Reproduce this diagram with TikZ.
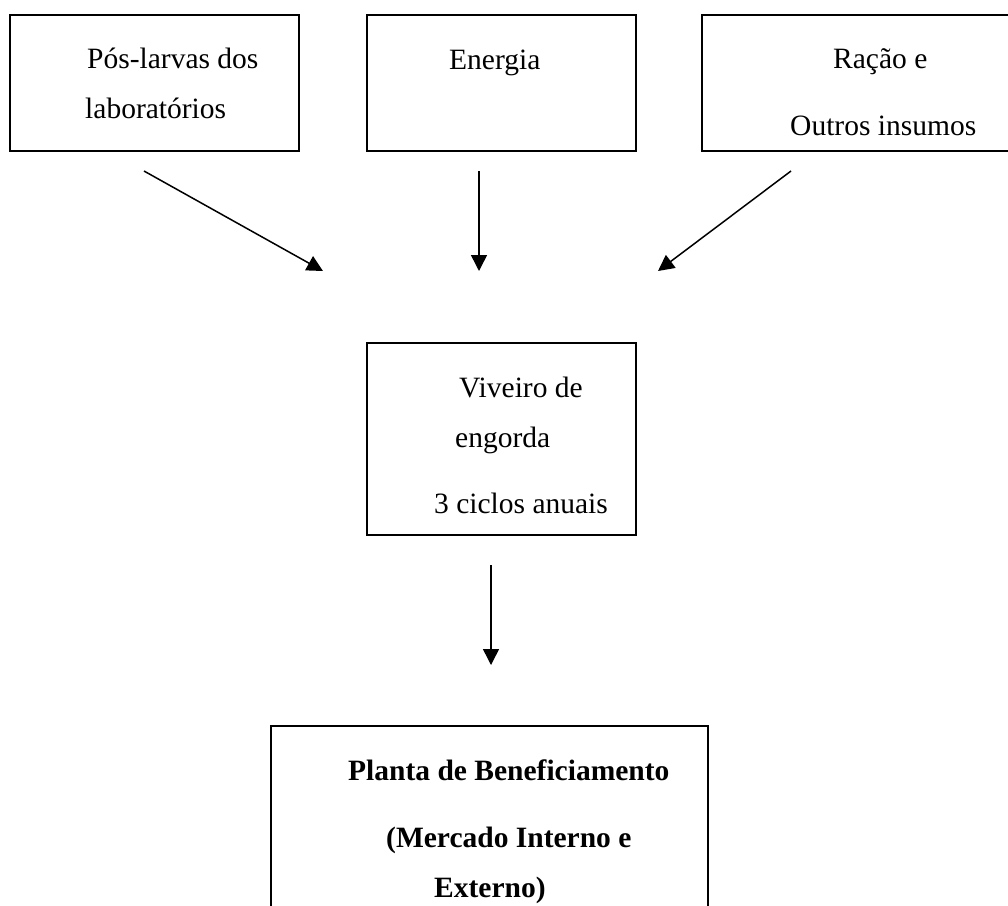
\documentclass[tikz,border=0pt]{standalone}
\usepackage{fontspec}
\setmainfont{Liberation Serif}
\usetikzlibrary{arrows.meta}
\begin{document}
\begin{tikzpicture}[x=1pt,y=-1pt,
  box/.style={draw, line width=2pt, rectangle, inner sep=0pt},
  lbl/.style={anchor=base west, inner sep=0pt, font=\fontsize{29.5}{35}\selectfont},
  conn/.style={line width=1.5pt, -{Triangle[length=16pt,width=16pt]}}]
\clip (0,0) rectangle (1008,905);
\fill[white] (0,0) rectangle (1008,905);
% boxes
\node[box, minimum width=289.3pt, minimum height=136pt] (pl) at (154.65,82.7) {};
\node[box, minimum width=268.4pt, minimum height=136pt] (en) at (501.5,82.7) {};
\node[box, minimum width=310pt, minimum height=136pt] (ra) at (857,82.7) {};
\node[box, minimum width=268.4pt, minimum height=192pt] (vi) at (501.5,439) {};
\node[box, minimum width=437pt, minimum height=214pt] (pb) at (489,833) {};
% texts
\node[lbl] (t1) at (87,68) {Pós-larvas dos};
\node[lbl] (t2) at (85,118) {laboratórios};
\node[lbl] (t3) at (449,69) {Energia};
\node[lbl] (t4) at (833,68) {Ração e};
\node[lbl] (t5) at (790,135) {Outros insumos};
\node[lbl] (t6) at (459,397) {Viveiro de};
\node[lbl] (t7) at (455,447) {engorda};
\node[lbl] (t8) at (434,513) {3 ciclos anuais};
\node[lbl, font=\fontsize{29.5}{35}\selectfont\bfseries] (t9) at (348,780) {Planta de Beneficiamento};
\node[lbl, font=\fontsize{29.5}{35}\selectfont\bfseries] (t10) at (386,847) {(Mercado Interno e};
\node[lbl, font=\fontsize{29.5}{35}\selectfont\bfseries] (t11) at (434,897) {Externo)};
% connector ends
\coordinate (a1s) at (144,171);
\coordinate (a1e) at (323,271);
\coordinate (a2s) at (479,171);
\coordinate (a2e) at (479,271);
\coordinate (a3s) at (791,171);
\coordinate (a3e) at (658,271);
\coordinate (a4s) at (491,565);
\coordinate (a4e) at (491,665);
\draw[conn] (a1s) -- (a1e);
\draw[conn] (a2s) -- (a2e);
\draw[conn] (a3s) -- (a3e);
\draw[conn] (a4s) -- (a4e);
\end{tikzpicture}
\end{document}
